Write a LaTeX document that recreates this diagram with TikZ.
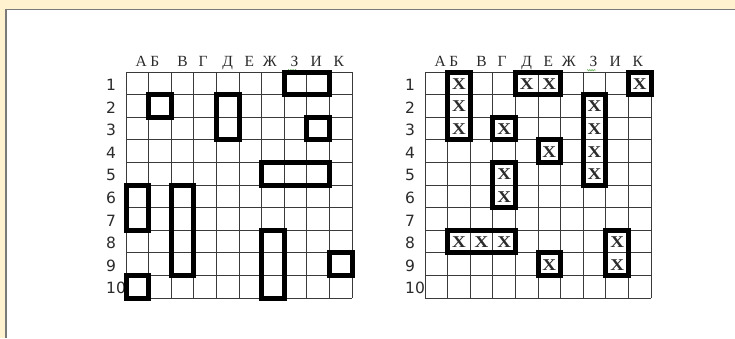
\documentclass[tikz,border=0pt]{standalone}
\usepackage{fontspec}
\setmainfont{Liberation Serif}
\newfontfamily\rowfont{DejaVu Sans}
\usepackage{tikz}
\usetikzlibrary{decorations.pathmorphing}
\usepackage{xcolor}
\definecolor{paper}{HTML}{FFF2CF}
\definecolor{frame}{HTML}{7A7A7A}
\definecolor{gridgray}{HTML}{3A3A3A}
\definecolor{spellgreen}{HTML}{5BAA4A}
\definecolor{darkgray}{HTML}{2B2B2B}

\begin{document}
\begin{tikzpicture}[x=1pt,y=-1pt,
  cell/.style={gridgray,line width=1pt},
  ship/.style={black,line width=5pt},
  collabel/.style={darkgray,font=\fontsize{15.5}{15.5}\selectfont,inner sep=0pt,anchor=base},
  rowlabel/.style={darkgray,font=\rowfont\fontsize{15.5}{15.5}\selectfont,inner sep=0pt,anchor=base west},
  hit/.style={darkgray,font=\fontsize{16.5}{16.5}\selectfont\bfseries,inner sep=0pt,xscale=1.15},
  squiggle/.style={spellgreen,line width=0.5pt,decorate,decoration={snake,amplitude=0.8pt,segment length=2.2pt}}]
  \useasboundingbox (0,0) rectangle (735,338);
  \fill[paper] (0,0) rectangle (735,338);
  \fill[white] (6,9.5) rectangle (735,338);
  \draw[frame,line width=1.4pt] (6,338) -- (6,9.5) -- (735,9.5);

  \foreach \gx/\gn in {126/L,425/R} {
    \begin{scope}[shift={(\gx,72)}]
      \foreach \i in {0,...,10} {
        \draw[cell] ({\i*22.6},0) -- ({\i*22.6},226);
        \draw[cell] (0,{\i*22.6}) -- (226,{\i*22.6});
      }
      \foreach \c/\dx [count=\i] in {А/4,Б/-5,В/0,Г/-2,Д/0,Е/-1,Ж/-3,З/-1,И/-2,К/-2}
        \node[collabel] (\gn c\i) at ({(\i-0.5)*22.6+\dx},-5.5) {\c};
      \foreach \i in {1,...,10}
        \node[rowlabel] (\gn r\i) at (-20,{(\i-1)*22.6+18.5}) {\i};
      \draw[squiggle] (162,-1.8) -- (171,-1.8);
    \end{scope}
  }

  \begin{scope}[shift={(126,72)}]
    \foreach \c/\r/\w/\h in {8/1/2/1,2/2/1/1,5/2/1/2,9/3/1/1,7/5/3/1,1/6/1/2,3/6/1/4,7/8/1/3,10/9/1/1,1/10/1/1}
      \draw[ship] ({(\c-1)*22.6},{(\r-1)*22.6}) rectangle ++({\w*22.6},{\h*22.6});
  \end{scope}

  \begin{scope}[shift={(425,72)}]
    \foreach \c/\r/\w/\h in {2/1/1/3,5/1/2/1,10/1/1/1,8/2/1/4,4/3/1/1,6/4/1/1,4/5/1/2,2/8/3/1,9/8/1/2,6/9/1/1}
      \draw[ship] ({(\c-1)*22.6},{(\r-1)*22.6}) rectangle ++({\w*22.6},{\h*22.6});
    \foreach \c/\r [count=\k] in {2/1,2/2,2/3,5/1,6/1,10/1,8/2,8/3,8/4,8/5,4/3,6/4,4/5,4/6,2/8,3/8,4/8,9/8,9/9,6/9}
      \node[hit] (x\k) at ({(\c-0.5)*22.6},{(\r-0.5)*22.6+0.5}) {X};
  \end{scope}
\end{tikzpicture}
\end{document}
